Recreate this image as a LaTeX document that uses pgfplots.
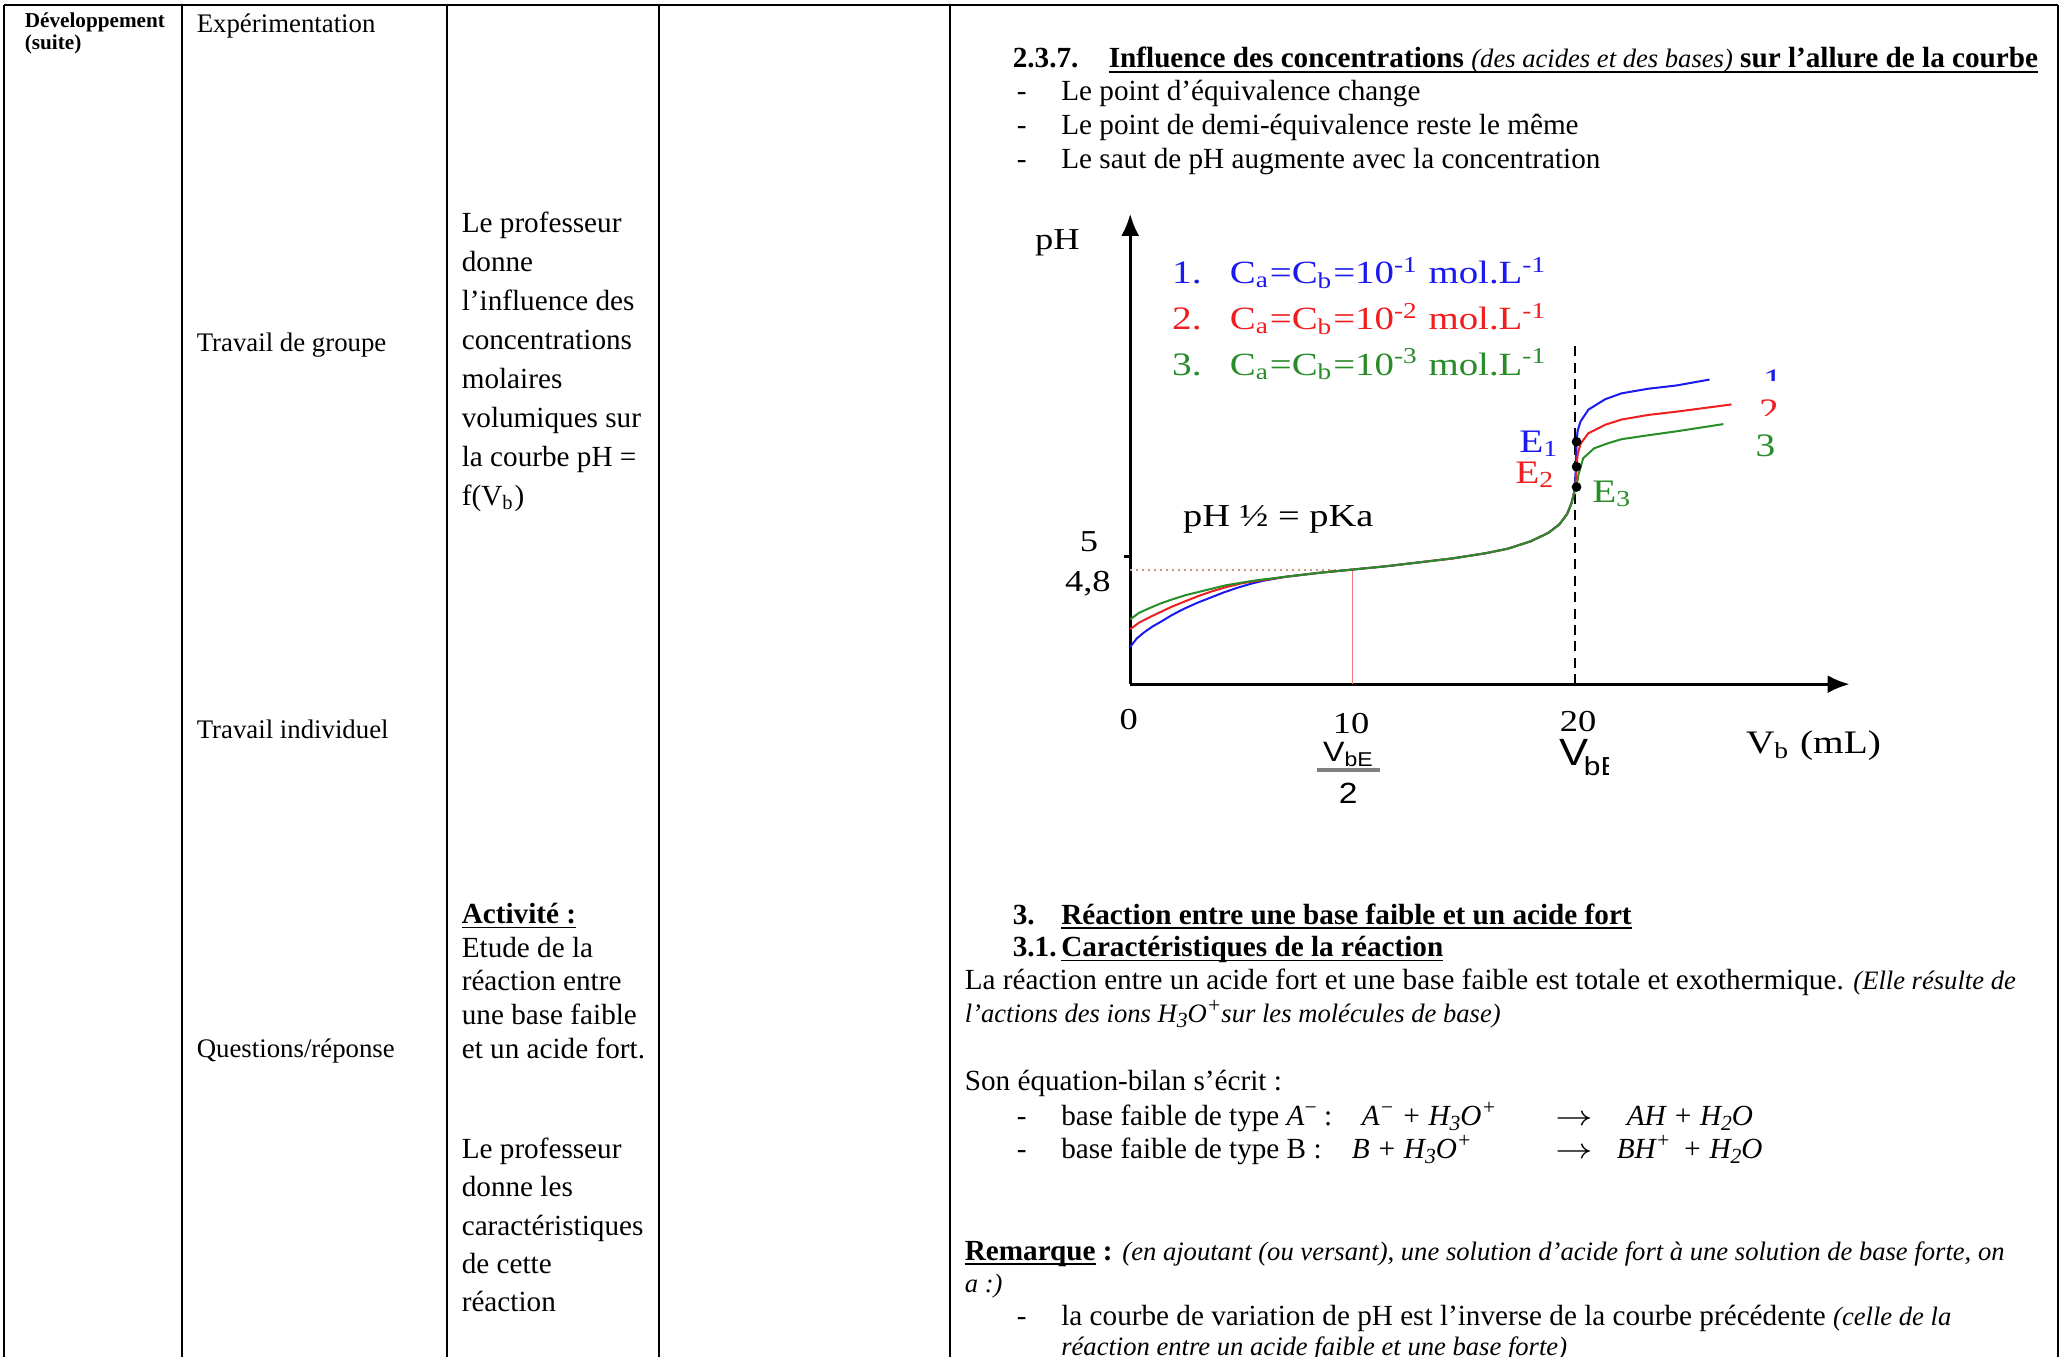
\documentclass[border=0pt]{standalone}
\usepackage{pgfplots}
\pgfplotsset{compat=1.18}
\usepackage{pgfplotstable}
\usepackage{graphicx}
\usetikzlibrary{arrows.meta}
\usepackage{fontspec}
\setmainfont{Liberation Serif}
\newfontfamily\cf[FakeStretch=1.2]{Liberation Serif}
\newfontfamily\cs[FakeStretch=1.15]{Liberation Sans}
\definecolor{cblue}{RGB}{25,25,240}
\definecolor{cred}{RGB}{240,30,30}
\definecolor{cgreen}{RGB}{40,140,40}
\definecolor{dotc}{RGB}{205,150,110}
\definecolor{vred}{RGB}{240,120,120}
\newcommand\nf{\fontsize{7.3}{8.8}\selectfont}
\newcommand\ctwo{\fontsize{6.7}{8}\selectfont}
\newcommand\sm{\fontsize{6.65}{8}\selectfont}
\newcommand\cfs[1]{\cf\fontsize{#1}{#1}\selectfont}
\newcommand\ul[1]{\setbox0\hbox{#1}\rlap{\rule[-0.17em]{\wd0}{0.065em}}\box0}
\newcommand\sps[1]{\raisebox{0.36em}{\fontsize{5.4}{5.4}\selectfont #1}}
\newcommand\sbs[1]{\raisebox{-0.18em}{\fontsize{5.4}{5.4}\selectfont #1}}
\newcommand\arr{\scalebox{1.2}[1]{$\rightarrow$}}

\pgfplotstableread{
x y
0 3.62
0.3 3.75
0.62 3.84
1.0 3.93
1.36 4.00
1.85 4.10
2.35 4.19
3.0 4.29
3.6 4.37
4.2 4.45
4.8 4.52
5.5 4.59
6.0 4.63
7 4.69
8.5 4.75
10 4.80
11.5 4.85
13 4.91
14.5 4.97
16 5.05
17 5.12
18 5.23
18.8 5.36
19.3 5.49
19.65 5.65
19.85 5.82
19.95 5.96
20.0 6.08
20.04 6.40
20.07 6.75
20.12 6.92
20.25 7.06
20.6 7.24
21.36 7.40
22.1 7.49
23.3 7.56
24.57 7.61
26.05 7.70
}\bluedata

\pgfplotstableread{
x y
0 3.89
0.4 3.99
0.86 4.07
1.35 4.15
1.85 4.23
2.5 4.32
3.1 4.40
3.7 4.47
4.3 4.53
5.0 4.59
5.56 4.62
6.0 4.64
7 4.69
8.5 4.75
10 4.80
11.5 4.85
13 4.91
14.5 4.97
16 5.05
17 5.12
18 5.23
18.8 5.36
19.3 5.49
19.65 5.65
19.85 5.82
19.95 5.96
20.0 6.05
20.05 6.22
20.07 6.37
20.12 6.56
20.25 6.72
20.6 6.88
21.36 7.01
22.1 7.09
23.3 7.16
24.57 7.21
27.04 7.32
}\reddata

\pgfplotstableread{
x y
0 4.04
0.4 4.14
0.86 4.21
1.35 4.28
1.85 4.34
2.5 4.41
3.1 4.46
3.7 4.51
4.3 4.56
5.0 4.60
5.56 4.63
6.0 4.65
7 4.69
8.5 4.75
10 4.80
11.5 4.85
13 4.91
14.5 4.97
16 5.05
17 5.12
18 5.23
18.8 5.36
19.3 5.49
19.65 5.65
19.85 5.82
19.95 5.96
20.0 6.01
20.07 6.06
20.15 6.24
20.37 6.50
20.86 6.65
21.5 6.73
22.1 6.79
23.3 6.85
24.57 6.91
26.67 7.02
}\greendata

\begin{document}
\begin{tikzpicture}[x=0.25pt,y=-0.25pt]
\useasboundingbox (0,0) rectangle (2063,1357);
\fill[white] (0,0) rectangle (2063,1357);
% table rules
\draw[line width=0.7pt] (4,5) -- (2058,5);
\foreach \xx in {4,182,447,659,950,2058} \draw[line width=0.7pt] (\xx,5) -- (\xx,1357);

% column 1
\node[anchor=base west,inner sep=0pt] at (24,28) {\fontsize{5.3}{6.4}\selectfont\bfseries Développement};
\node[anchor=base west,inner sep=0pt] at (24,50) {\fontsize{5.3}{6.4}\selectfont\bfseries (suite)};
% column 2
\node[anchor=base west,inner sep=0pt] at (196,32.9) {\ctwo Expérimentation};
\node[anchor=base west,inner sep=0pt] at (196,351.3) {\ctwo Travail de groupe};
\node[anchor=base west,inner sep=0pt] at (196,738) {\ctwo Travail individuel};
\node[anchor=base west,inner sep=0pt] at (196,1057.8) {\ctwo Questions/réponse};
% column 3
\foreach \t [count=\i from 0] in {Le professeur,donne,l’influence des,concentrations,molaires,volumiques sur,la courbe pH =,f(V\textsubscript{b})}
  \node[anchor=base west,inner sep=0pt] at (461,232.9+38.9*\i) {\nf \t};
\node[anchor=base west,inner sep=0pt] at (461,923.5) {\nf\ul{\textbf{Activité :}}};
\foreach \t [count=\i from 1] in {Etude de la,réaction entre,une base faible,et un acide fort.}
  \node[anchor=base west,inner sep=0pt] at (461,923.5+33.7*\i) {\nf \t};
\foreach \t [count=\i from 0] in {Le professeur,donne les,caractéristiques,de cette,réaction}
  \node[anchor=base west,inner sep=0pt] at (461,1158.3+38.35*\i) {\nf \t};

% right column, top
\node[anchor=base west,inner sep=0pt] at (1012,68) {\nf\bfseries 2.3.7.};
\node[anchor=base west,inner sep=0pt] at (1108,68) {\nf\ul{\textbf{Influence des concentrations} {\sm\itshape (des acides et des bases)} \textbf{sur l’allure de la courbe}}};
\foreach \t [count=\i from 1] in {Le point d’équivalence change,Le point de demi-équivalence reste le même,Le saut de pH augmente avec la concentration}{
  \node[anchor=base west,inner sep=0pt] at (1016,67+34*\i) {\nf -};
  \node[anchor=base west,inner sep=0pt] at (1060.5,67+34*\i) {\nf \t};}

% right column, bottom
\node[anchor=base west,inner sep=0pt] at (1012,924) {\nf\bfseries 3.};
\node[anchor=base west,inner sep=0pt] at (1060.5,924) {\nf\ul{\textbf{Réaction entre une base faible et un acide fort}}};
\node[anchor=base west,inner sep=0pt] at (1012,956.5) {\nf\bfseries 3.1.};
\node[anchor=base west,inner sep=0pt] at (1060.5,956.5) {\nf\ul{\textbf{Caractéristiques de la réaction}}};
\node[anchor=base west,inner sep=0pt] at (964,989.5) {\nf La réaction entre un acide fort et une base faible est totale et exothermique. {\sm\itshape (Elle résulte de}};
\node[anchor=base west,inner sep=0pt] at (964,1022.5) {\sm\itshape l’actions des ions H\sbs{3}O\sps{+}sur les molécules de base)};
\node[anchor=base west,inner sep=0pt] at (964,1090.5) {\nf Son équation-bilan s’écrit :};
\node[anchor=base west,inner sep=0pt] at (1016,1125) {\nf -};
\node[anchor=base west,inner sep=0pt] at (1060.5,1125) {\nf base faible de type \textit{A}\sps{−} :};
\node[anchor=base west,inner sep=0pt] at (1361,1125) {\nf\itshape A\sps{−} + H\sbs{3}O\sps{+}};
\node[anchor=base west,inner sep=0pt] at (1554,1125) {\nf\arr};
\node[anchor=base west,inner sep=0pt] at (1626,1125) {\nf\itshape AH + H\sbs{2}O};
\node[anchor=base west,inner sep=0pt] at (1016,1158.5) {\nf -};
\node[anchor=base west,inner sep=0pt] at (1060.5,1158.5) {\nf base faible de type B :};
\node[anchor=base west,inner sep=0pt] at (1351,1158.5) {\nf\itshape B + H\sbs{3}O\sps{+}};
\node[anchor=base west,inner sep=0pt] at (1554,1158.5) {\nf\arr};
\node[anchor=base west,inner sep=0pt] at (1616,1158.5) {\nf\itshape BH\sps{+} \,+ H\sbs{2}O};
\node[anchor=base west,inner sep=0pt] at (964,1260) {\nf\ul{\textbf{Remarque}}\textbf{ :} {\sm\itshape (en ajoutant (ou versant), une solution d’acide fort à une solution de base forte, on}};
\node[anchor=base west,inner sep=0pt] at (964,1292) {\sm\itshape a :)};
\node[anchor=base west,inner sep=0pt] at (1016,1325) {\nf -};
\node[anchor=base west,inner sep=0pt] at (1060.5,1325) {\nf la courbe de variation de pH est l’inverse de la courbe précédente {\sm\itshape (celle de la}};
\node[anchor=base west,inner sep=0pt] at (1060.5,1355) {\sm\itshape réaction entre un acide faible et une base forte)};

% ---------- chart ----------
\begin{axis}[
  at={(282.55pt,-171.05pt)}, anchor=south west,
  scale only axis, width=179.85pt, height=117.6pt,
  xmin=0, xmax=32.35, ymin=3.05, ymax=10.23,
  axis lines=left,
  axis line style={line width=0.75pt, -{Latex[length=5.5pt,width=4.5pt]}},
  xtick=\empty, ytick={5}, yticklabels={},
  tick align=outside, major tick length=1.5pt,
  tick style={black, line width=0.6pt},
]
\addplot[vred, line width=0.35pt] coordinates {(10,3.05) (10,4.8)};
\addplot[dotc, line width=0.5pt, densely dotted] coordinates {(0,4.8) (10,4.8)};
\addplot[black, line width=0.6pt, dash pattern=on 2.5pt off 1.6pt] coordinates {(20,3.05) (20,8.24)};
\addplot[cblue, line width=0.5pt] table[x=x,y=y] {\bluedata};
\addplot[cred, line width=0.5pt] table[x=x,y=y] {\reddata};
\addplot[cgreen, line width=0.5pt] table[x=x,y=y] {\greendata};
\addplot[only marks, mark=*, mark size=1pt, black] coordinates {(20.07,6.75) (20.07,6.37) (20.07,6.06)};
\end{axis}

% chart labels
\node[anchor=base,inner sep=0pt] at (1057.5,249.4) {\cfs{7.6}pH};
\node[anchor=base west,inner sep=0pt,text=cblue] at (1171.4,283.8) {\cfs{8.2}1.};
\node[anchor=base west,inner sep=0pt,text=cblue] at (1229,283.8) {\cfs{8.1}C\textsubscript{a}=C\textsubscript{b}=10\textsuperscript{-1} mol.L\textsuperscript{-1}};
\node[anchor=base west,inner sep=0pt,text=cred] at (1171.4,329.7) {\cfs{8.2}2.};
\node[anchor=base west,inner sep=0pt,text=cred] at (1229,329.7) {\cfs{8.1}C\textsubscript{a}=C\textsubscript{b}=10\textsuperscript{-2} mol.L\textsuperscript{-1}};
\node[anchor=base west,inner sep=0pt,text=cgreen] at (1171.4,375.1) {\cfs{8.2}3.};
\node[anchor=base west,inner sep=0pt,text=cgreen] at (1229,375.1) {\cfs{8.1}C\textsubscript{a}=C\textsubscript{b}=10\textsuperscript{-3} mol.L\textsuperscript{-1}};
\node[anchor=base west,inner sep=0pt,text=cblue] at (1518.5,452.2) {\cfs{8.2}E\textsubscript{1}};
\node[anchor=base west,inner sep=0pt,text=cred] at (1514.6,483.8) {\cfs{8.2}E\textsubscript{2}};
\node[anchor=base west,inner sep=0pt,text=cgreen] at (1591.5,502.4) {\cfs{8.2}E\textsubscript{3}};
\begin{scope}
\clip (1745,360) rectangle (1800,381);
\node[anchor=base,inner sep=0pt,text=cblue] at (1772.7,391.7) {\cfs{8.2}1};
\end{scope}
\begin{scope}
\clip (1745,390) rectangle (1800,416);
\node[anchor=base,inner sep=0pt,text=cred] at (1768.9,421.3) {\cfs{8.2}2};
\end{scope}
\node[anchor=base,inner sep=0pt,text=cgreen] at (1765.5,456.9) {\cfs{8.2}3};
\node[anchor=base west,inner sep=0pt] at (1182.4,526.1) {\cfs{8}pH ½ = pKa};
\node[anchor=base,inner sep=0pt] at (1089,551.8) {\cfs{7.6}5};
\node[anchor=base west,inner sep=0pt] at (1064.3,591.3) {\cfs{7.6}4,8};
\node[anchor=base,inner sep=0pt] at (1128.6,729.7) {\cfs{7.6}0};
\node[anchor=base,inner sep=0pt] at (1351,733.6) {\cfs{7.6}10};
\node[anchor=base,inner sep=0pt] at (1578,731.6) {\cfs{7.6}20};
\node[anchor=base west,inner sep=0pt] at (1322.4,761.3) {\cs\fontsize{7}{7}\selectfont V\textsubscript{bE}};
\draw[gray, line width=0.8pt] (1317,770) -- (1380,770);
\node[anchor=base,inner sep=0pt] at (1348.2,803.6) {\cs\fontsize{7.3}{7.3}\selectfont 2};
\begin{scope}
\clip (1550,700) rectangle (1608,800);
\node[anchor=base west,inner sep=0pt] at (1558.5,765.3) {\cs\fontsize{9.5}{9.5}\selectfont V\kern-0.12em\raisebox{-0.28em}{\fontsize{6.5}{6.5}\selectfont bE}};
\end{scope}
\node[anchor=base west,inner sep=0pt] at (1745.2,753.4) {\cfs{8.2}V\textsubscript{b} (mL)};
\end{tikzpicture}
\end{document}
